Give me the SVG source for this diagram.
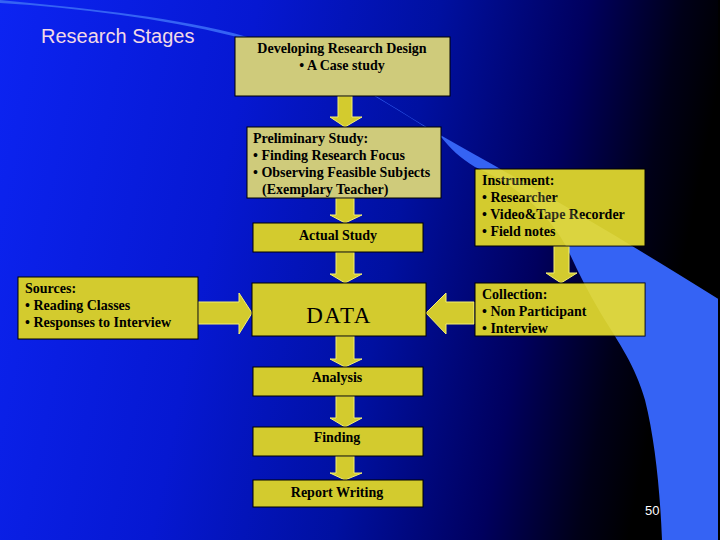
<svg xmlns="http://www.w3.org/2000/svg" width="720" height="540" viewBox="0 0 720 540">
<style>
.box{stroke:#000;stroke-width:1}
.pale{fill:#cfcb7b}
.yel{fill:#d3cb2e}
.arr{fill:#d3cb2e;stroke:#f4f070;stroke-width:1}
.t{font-family:"Liberation Serif","Times New Roman",serif;font-size:14px;font-weight:bold;fill:#000}
.c{text-anchor:middle}
</style>
<defs>
<linearGradient id="bg" x1="0" y1="0" x2="1" y2="0.15">
<stop offset="0" stop-color="#0c24f2"/>
<stop offset="0.35" stop-color="#0618d2"/>
<stop offset="0.6" stop-color="#0010a0"/>
<stop offset="0.8" stop-color="#00005e"/>
<stop offset="0.93" stop-color="#000018"/>
<stop offset="1" stop-color="#000000"/>
</linearGradient>
<clipPath id="boxclip">
<rect x="475" y="169" width="170" height="77"/>
<rect x="475" y="283" width="170" height="53"/>
</clipPath>
<path id="band" d="M0,0 C80,8 160,15 233,33 C320,55 380,100 442,136 C520,180 600,225 720,300 L720,540 L662,540 C660,490 655,440 645,400 C635,365 620,345 600,312 C588,292 578,272 568,250 C545,205 505,180 475,167 C460,158 450,148 442,138 C380,97 300,50 233,36 C160,18 80,8 0,3 Z"/>
</defs>
<rect width="720" height="540" fill="url(#bg)"/>
<use href="#band" fill="#3563f4"/>
<rect x="718" y="0" width="2" height="540" fill="#000"/>
<text x="41" y="43" font-family="Liberation Sans, Arial, sans-serif" font-size="20" fill="#f2d9e6">Research Stages</text>
<g id="connectors">
<polygon class="arr" points="338,96 352,96 352,117 362,117 345,127 330,117 338,117"/>
<polygon class="arr" points="336,198 354,198 354,215 362,215 345,223 330,215 336,215"/>
<polygon class="arr" points="336,252 354,252 354,274 362,274 345,283 330,274 336,274"/>
<polygon class="arr" points="336,336 354,336 354,359 362,359 345,367 330,359 336,359"/>
<polygon class="arr" points="336,396 354,396 354,418 362,418 345,427 330,418 336,418"/>
<polygon class="arr" points="336,456 354,456 354,473 362,473 345,480 330,473 336,473"/>
<polygon class="arr" points="554,246 569,246 569,273 577,273 561,283 546,273 554,273"/>
<polygon class="arr" points="198,302 239,302 239,293 252,313 239,334 239,324 198,324"/>
<polygon class="arr" points="474,302 446,302 446,293 426,313 446,334 446,324 474,324"/>
</g>
<g id="n-design"><rect class="box pale" x="235" y="37" width="215" height="59"/>
<text class="t c" x="342" y="53">Developing Research Design</text>
<text class="t c" x="342" y="70">• A Case study</text></g>
<g id="n-prelim"><rect class="box pale" x="247" y="127" width="194" height="71"/>
<text class="t" x="253" y="143">Preliminary Study:</text>
<text class="t" x="253" y="160">• Finding Research Focus</text>
<text class="t" x="253" y="177">• Observing Feasible Subjects</text>
<text class="t" x="262" y="194">(Exemplary Teacher)</text></g>
<g id="n-actual"><rect class="box yel" x="253" y="223" width="170" height="29"/>
<text class="t c" x="338" y="240">Actual Study</text></g>
<g id="n-data"><rect class="box yel" x="252" y="283" width="174" height="53"/>
<text class="c" x="339" y="323" font-family="Liberation Serif, serif" font-size="23" letter-spacing="1.5">DATA</text></g>
<g id="n-sources"><rect class="box yel" x="18" y="277" width="180" height="62"/>
<text class="t" x="25" y="293">Sources:</text>
<text class="t" x="25" y="310">• Reading Classes</text>
<text class="t" x="25" y="327">• Responses to Interview</text></g>
<g id="n-instrument"><rect class="box yel" x="475" y="169" width="170" height="77"/>
<text class="t" x="482" y="185">Instrument:</text>
<text class="t" x="482" y="202">• Researcher</text>
<text class="t" x="482" y="219">• Video&amp;Tape Recorder</text>
<text class="t" x="482" y="236">• Field notes</text></g>
<g id="n-collection"><rect class="box yel" x="475" y="283" width="170" height="53"/>
<text class="t" x="482" y="299">Collection:</text>
<text class="t" x="482" y="316">• Non Participant</text>
<text class="t" x="482" y="333">• Interview</text></g>
<use href="#band" fill="#ffff90" opacity="0.18" clip-path="url(#boxclip)"/>
<g id="n-analysis"><rect class="box yel" x="253" y="367" width="170" height="29"/>
<text class="t c" x="337" y="382">Analysis</text></g>
<g id="n-finding"><rect class="box yel" x="253" y="427" width="170" height="29"/>
<text class="t c" x="337" y="442">Finding</text></g>
<g id="n-report"><rect class="box yel" x="253" y="480" width="170" height="27"/>
<text class="t c" x="337" y="497">Report Writing</text></g>
<text x="645" y="515" font-family="Liberation Sans, Arial, sans-serif" font-size="13" fill="#fff">50</text>
</svg>
